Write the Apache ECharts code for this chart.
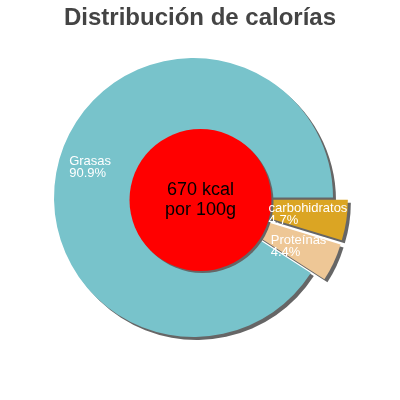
<!DOCTYPE html>
<html><head><meta charset="utf-8">
<script src="https://cdn.jsdelivr.net/npm/echarts@6/dist/echarts.min.js"></script>
<style>html,body{margin:0;padding:0;background:#fff}#c{width:400px;height:400px}</style>
</head><body><div id="c"></div>
<script>
const titleText = 'Distribución de calorías';
const categories = ['Grasas', 'carbohidratos', 'Proteínas'];
const percents = [90.9, 4.7, 4.4];
const exploded = [false, true, true];
const colors = ['#78c3cb', '#dba523', '#eec796'];
const centerText = ['670 kcal', 'por 100g'];

const pieCenter = [193.5, 197.5];
const data = categories.map((c, i) => ({ name: c, value: percents[i], selected: exploded[i], itemStyle: { color: colors[i] } }));
const labelData = categories.map((c, i) => ({ name: c, value: percents[i], selected: exploded[i] }));

const chart = echarts.init(document.getElementById('c'), null, { renderer: 'canvas' });
chart.setOption({
  animation: false,
  title: { text: titleText, left: 'center', top: 1, textStyle: { fontFamily: 'Liberation Sans', fontSize: 24, fontWeight: 'bold', color: '#444' } },
  series: [
    {
      type: 'pie', z: 2, center: pieCenter, radius: [0, 139.5], startAngle: 327.24, clockwise: true,
      selectedMode: 'multiple', selectedOffset: 15, silent: true,
      itemStyle: { shadowColor: '#666', shadowOffsetX: 3, shadowOffsetY: 3, shadowBlur: 0 },
      label: { show: false }, labelLine: { show: false },
      data: data
    },
    {
      type: 'pie', z: 3, center: [200.5, 200], radius: [0, 71], silent: true,
      itemStyle: { color: '#ff0000', shadowColor: '#666', shadowOffsetX: 2, shadowOffsetY: 2, shadowBlur: 0 },
      label: { show: true, position: 'center', formatter: centerText.join('\n'), color: '#000', fontFamily: 'Liberation Sans', fontSize: 18, lineHeight: 20 },
      labelLine: { show: false },
      data: [{ name: 'total', value: 1 }]
    },
    {
      type: 'pie', z: 4, center: pieCenter, radius: [70, 139.5], startAngle: 327.24, clockwise: true,
      selectedMode: 'multiple', selectedOffset: 8, silent: true,
      itemStyle: { color: 'rgba(0,0,0,0)' },
      label: {
        show: true, position: 'inside', align: 'center', color: '#fff',
        fontFamily: 'Liberation Sans', fontSize: 13, lineHeight: 12,
        formatter: p => '{a|' + p.name + '}\n{a|' + p.value.toFixed(1) + '%}',
        rich: { a: { align: 'left', color: '#fff', fontFamily: 'Liberation Sans', fontSize: 13, lineHeight: 12 } }
      },
      labelLine: { show: false },
      data: labelData
    }
  ]
});
</script></body></html>
